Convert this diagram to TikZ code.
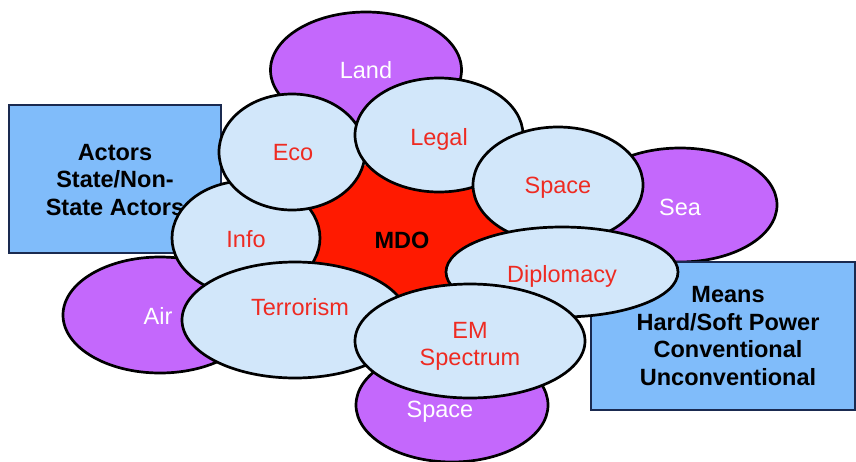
\documentclass[tikz,border=0pt]{standalone}
\usepackage{fontspec}
\setmainfont{Liberation Sans}
\usetikzlibrary{shapes.geometric}
\definecolor{purp}{HTML}{C468FC}
\definecolor{lblue}{HTML}{D2E7FA}
\definecolor{mred}{HTML}{FF1A00}
\definecolor{boxblue}{HTML}{80BCFA}
\definecolor{boxline}{HTML}{1A2A50}
\definecolor{tred}{HTML}{EE2B22}
\begin{document}
\begin{tikzpicture}[x=1pt,y=-1pt,
  domshape/.style={ellipse, draw=black, line width=2.7pt, inner sep=0pt},
  outerdom/.style={domshape, fill=purp},
  innerdom/.style={domshape, fill=lblue},
  lbl/.style={inner sep=0pt, text height=16.8pt, text depth=0pt, font=\fontsize{23.5}{27}\selectfont},
  mlbl/.style={inner sep=0pt, anchor=base, align=center, font=\fontsize{23.5}{27}\selectfont},
  wtxt/.style={lbl, text=white},
  rtxt/.style={lbl, text=tred},
  boxtxt/.style={inner sep=0pt, anchor=base, align=center, font=\bfseries\fontsize{23.5}{27.5}\selectfont},
  infobox/.style={draw=boxline, line width=1.2pt, fill=boxblue, inner sep=0pt}]
\useasboundingbox (0,0) rectangle (856,461);

% outer (purple) domains
\node[outerdom, minimum width=191pt, minimum height=116pt] (land) at (366,70) {};
\node[outerdom, minimum width=194pt, minimum height=114pt] (sea) at (680,205) {};
\node[outerdom, minimum width=194pt, minimum height=116pt] (air) at (160,315) {};
\node[outerdom, minimum width=192pt, minimum height=114pt] (space2) at (452,405) {};
\node[wtxt] (tland) at (366,70) {Land};
\node[wtxt] (tsea) at (680,207) {Sea};
\node[wtxt] (tair) at (158,316) {Air};
\node[wtxt] (tspace2) at (440,409) {Space};

% core
\node[ellipse, fill=mred, minimum width=250pt, minimum height=160pt, inner sep=0pt] (core) at (410,240) {};

% boxes
\node[infobox, minimum width=212pt, minimum height=148pt] (actors) at (115,179) {};
\node[boxtxt] (tactors) at (115,215) {Actors\\State/Non-\\State Actors};
\node[infobox, minimum width=264pt, minimum height=148pt] (means) at (723,336) {};
\node[boxtxt] (tmeans) at (728,385)
  {Means\\Hard/Soft Power\\Conventional\\Unconventional};

% inner (light blue) domains
\node[innerdom, minimum width=148pt, minimum height=114pt] (info) at (246,238) {};
\node[innerdom, minimum width=146pt, minimum height=116pt] (eco) at (292,152) {};
\node[innerdom, minimum width=168pt, minimum height=114pt] (legal) at (439,135) {};
\node[innerdom, minimum width=170pt, minimum height=116pt] (space) at (558,185) {};
\node[innerdom, minimum width=232pt, minimum height=90pt] (diplo) at (562,272) {};
\node[innerdom, minimum width=226pt, minimum height=116pt] (terror) at (295,320) {};
\node[innerdom, minimum width=230pt, minimum height=114pt] (em) at (470,341) {};

\node[rtxt] (tinfo) at (246,239) {Info};
\node[rtxt] (teco) at (293,152) {Eco};
\node[rtxt] (tlegal) at (439,137) {Legal};
\node[rtxt] (tspace) at (558,185) {Space};
\node[rtxt] (tdiplo) at (562,274) {Diplomacy};
\node[rtxt] (tterror) at (300,307) {Terrorism};
\node[mlbl, text=tred] (tem) at (470,365) {EM\\Spectrum};

\node[lbl, font=\bfseries\fontsize{23.5}{27}\selectfont] (mdo) at (402,240) {MDO};
\end{tikzpicture}
\end{document}
